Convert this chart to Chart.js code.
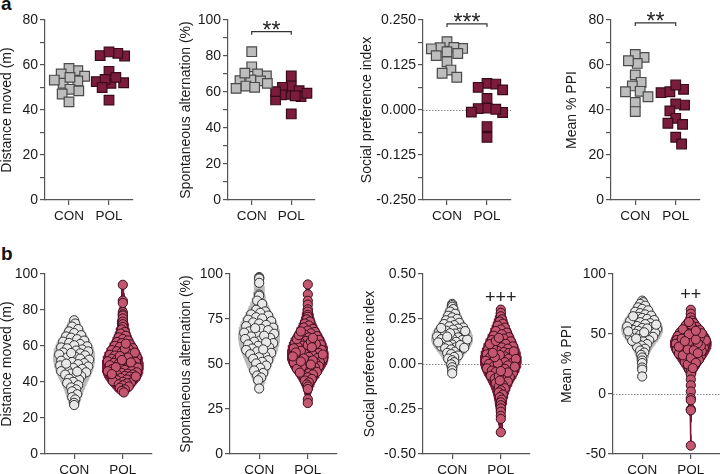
<!DOCTYPE html>
<html>
<head>
<meta charset="utf-8">
<script src="https://cdn.jsdelivr.net/npm/chart.js@4.4.1/dist/chart.umd.min.js"></script>
<style>
  html, body { margin: 0; padding: 0; background: #fff; }
  body { width: 720px; height: 474px; overflow: hidden; position: relative; font-family: "Liberation Sans", Arial, sans-serif; }
  canvas { position: absolute; }
  .panel-letter { position: absolute; font-weight: bold; font-size: 19px; line-height: 22px; color: #111; }
</style>
</head>
<body>
<div class="panel-letter" style="left:1px;top:-7px">a</div>
<div class="panel-letter" style="left:1px;top:243px">b</div>
<script>
const groups = ['CON', 'POL'];

// ---- row a: individual animals (squares) ----
const conDistA = [57.5, 58.5, 56.0, 55.0, 52.9, 51.9, 49.2, 47.1, 43.6, 48.5, 54.5, 53.3];
const polDistA = [64.0, 64.2, 65.2, 65.8, 57.2, 52.6, 51.9, 53.6, 52.1, 50.0, 44.4, 54.5];
const conAltA = [82.4, 74.0, 68.9, 70.0, 66.7, 66.2, 66.3, 63.3, 62.0, 62.6, 64.8, 70.5];
const polAltA = [68.9, 58.7, 63.3, 62.6, 60.7, 58.4, 57.4, 55.6, 60.2, 57.9, 47.8, 59.3];
const conSocA = [0.190, 0.173, 0.171, 0.174, 0.170, 0.162, 0.157, 0.151, 0.134, 0.111, 0.102, 0.091];
const polSocA = [0.074, 0.072, 0.056, 0.063, 0.032, 0.005, -0.007, 0.004, -0.006, 0.002, -0.046, -0.076];
const conPpiA = [63.4, 64.7, 60.7, 61.9, 55.6, 52.3, 50.7, 48.1, 48.3, 45.9, 43.4, 39.3];
const polPpiA = [49.2, 47.7, 48.1, 51.1, 42.2, 42.7, 39.6, 36.3, 34.1, 33.6, 27.9, 24.9];

// ---- row b: violins + individual animals (circles) ----
const conDistB = [74.3, 72.5, 70.8, 69.4, 68.1, 67.2, 66.0, 65.3, 64.6, 63.8, 63.0, 62.4, 61.7, 61.1, 60.4, 59.8, 59.2, 58.7, 58.1, 57.5, 57.0, 56.4, 55.9, 55.3, 54.8, 54.1, 53.6, 53.0, 52.4, 51.8, 51.1, 50.5, 49.9, 49.2, 48.6, 47.9, 47.3, 46.8, 46.0, 45.4, 44.7, 44.1, 43.3, 42.6, 41.8, 41.2, 40.1, 39.4, 38.2, 37.0, 35.9, 34.8, 33.2, 31.6, 30.3, 28.4, 27.2, 56.1, 50.2, 45.8];
const polDistB = [94.0, 85.2, 83.9, 78.8, 77.6, 76.9, 75.3, 73.5, 72.1, 70.6, 69.2, 67.8, 66.9, 65.7, 64.8, 63.9, 63.1, 62.2, 61.6, 60.9, 60.1, 59.5, 58.8, 58.2, 57.7, 57.1, 56.5, 56.0, 55.6, 55.1, 54.7, 54.2, 53.8, 53.3, 52.9, 52.4, 52.0, 51.5, 51.1, 50.6, 50.2, 49.7, 49.3, 48.9, 48.4, 48.0, 47.6, 47.1, 46.7, 46.3, 45.8, 45.4, 45.0, 44.6, 44.2, 43.8, 43.4, 43.0, 42.6, 42.2, 41.8, 41.4, 41.0, 40.5, 40.1, 39.6, 39.2, 38.7, 38.1, 37.5, 36.8, 35.9, 35.1, 34.2, 56.3, 53.6, 50.9, 48.2, 46.0, 44.4, 58.5, 61.3, 54.4, 52.2, 43.1];
const conAltB = [98.3, 97.8, 97.5, 95.1, 88.6, 87.9, 85.2, 83.4, 80.1, 79.2, 78.4, 77.6, 76.9, 76.0, 75.3, 74.6, 73.8, 73.1, 72.5, 71.7, 71.0, 70.2, 69.5, 68.8, 68.1, 67.4, 66.8, 66.0, 65.3, 64.5, 63.9, 63.1, 62.4, 61.6, 60.9, 60.1, 59.3, 58.6, 57.8, 57.0, 56.2, 55.4, 54.6, 53.8, 52.9, 52.1, 51.2, 50.3, 49.1, 47.8, 46.4, 45.0, 43.6, 42.5, 41.0, 36.4, 69.9, 65.7, 62.0, 58.1];
const polAltB = [94.2, 88.7, 85.1, 83.0, 80.4, 79.1, 77.3, 76.2, 74.8, 73.6, 72.5, 71.4, 70.3, 69.5, 68.6, 67.8, 67.0, 66.3, 65.5, 64.8, 64.1, 63.4, 62.8, 62.1, 61.5, 60.8, 60.2, 59.6, 59.0, 58.4, 57.8, 57.2, 56.7, 56.1, 55.6, 55.0, 54.5, 53.9, 53.4, 52.8, 52.3, 51.7, 51.1, 50.6, 50.0, 49.4, 48.8, 48.2, 47.6, 47.0, 46.3, 45.6, 44.9, 44.2, 43.4, 42.6, 41.7, 40.8, 39.8, 38.6, 37.5, 36.1, 30.4, 28.3, 57.3, 55.3, 53.1, 50.9, 48.5, 61.1, 63.8, 66.0, 58.7, 56.4, 54.2, 52.0, 49.7, 47.3, 60.5, 62.5, 45.2, 51.4, 59.3, 64.5, 68.1];
const conSocB = [0.334, 0.327, 0.318, 0.305, 0.291, 0.279, 0.268, 0.259, 0.251, 0.243, 0.236, 0.229, 0.222, 0.216, 0.209, 0.203, 0.197, 0.191, 0.185, 0.180, 0.174, 0.169, 0.163, 0.158, 0.153, 0.148, 0.143, 0.138, 0.133, 0.128, 0.123, 0.118, 0.113, 0.108, 0.103, 0.098, 0.093, 0.087, 0.081, 0.075, 0.069, 0.062, 0.055, 0.047, 0.039, 0.030, 0.021, 0.010, -0.002, -0.018, -0.035, -0.052, 0.171, 0.152, 0.136, 0.120, 0.183, 0.105, 0.200, 0.090];
const polSocB = [0.302, 0.284, 0.265, 0.248, 0.236, 0.224, 0.213, 0.202, 0.192, 0.183, 0.174, 0.165, 0.157, 0.149, 0.141, 0.133, 0.126, 0.119, 0.112, 0.105, 0.098, 0.092, 0.085, 0.079, 0.072, 0.066, 0.060, 0.054, 0.048, 0.042, 0.036, 0.030, 0.024, 0.018, 0.012, 0.006, 0.000, -0.006, -0.012, -0.018, -0.024, -0.031, -0.037, -0.044, -0.051, -0.058, -0.065, -0.073, -0.081, -0.089, -0.097, -0.106, -0.115, -0.125, -0.135, -0.146, -0.158, -0.170, -0.184, -0.198, -0.213, -0.229, -0.246, -0.265, -0.288, -0.305, -0.379, 0.070, 0.050, 0.028, 0.010, -0.008, -0.027, -0.047, 0.090, 0.110, 0.128, -0.068, -0.092, 0.145, 0.004, 0.038, -0.015, 0.062, -0.039];
const conPpiB = [77.8, 76.5, 75.1, 73.6, 72.2, 70.9, 69.7, 68.5, 67.4, 66.3, 65.3, 64.3, 63.4, 62.5, 61.6, 60.7, 59.8, 59.0, 58.2, 57.4, 56.6, 55.8, 55.0, 54.2, 53.4, 52.6, 51.8, 51.0, 50.2, 49.4, 48.5, 47.6, 46.7, 45.8, 44.8, 43.8, 42.7, 41.6, 40.4, 39.1, 37.7, 36.2, 34.5, 32.6, 30.4, 27.9, 25.8, 22.1, 20.3, 14.6, 61.0, 57.8, 54.6, 51.4, 48.0, 44.3, 64.8, 56.2, 52.2, 46.2];
const polPpiB = [70.2, 66.9, 63.8, 61.2, 59.1, 57.3, 55.8, 54.5, 53.3, 52.2, 51.1, 50.1, 49.2, 48.3, 47.4, 46.6, 45.8, 45.0, 44.2, 43.4, 42.7, 41.9, 41.2, 40.5, 39.7, 39.0, 38.3, 37.5, 36.8, 36.0, 35.2, 34.4, 33.6, 32.7, 31.8, 30.9, 29.9, 28.9, 27.8, 26.6, 25.3, 23.9, 22.4, 20.7, 18.8, 16.2, 12.1, 7.3, 2.1, -3.4, -5.2, -12.8, -13.6, -43.0, 55.0, 51.6, 48.8, 46.1, 43.8, 41.5, 38.6, 35.6, 32.2, 28.4, 24.6, 53.9, 49.7, 44.6, 40.1, 37.1, 33.1, 30.2, 47.0, 42.3, 50.6, 57.9, 45.4, 39.4, 36.4, 34.0, 52.7, 26.0, 21.6, 60.0, 44.0];

// ---- y-axis ticks ----
const distTicksA = [0, 20, 40, 60, 80];
const altTicksA = [0, 20, 40, 60, 80, 100];
const socTicksA = [-0.25, -0.125, 0, 0.125, 0.25];
const socLabelsA = ['-0.250', '-0.125', '0.000', '0.125', '0.250'];
const ppiTicksA = [0, 20, 40, 60, 80];
const distTicksB = [0, 20, 40, 60, 80, 100];
const altTicksB = [0, 25, 50, 75, 100];
const socTicksB = [-0.5, -0.25, 0, 0.25, 0.5];
const socLabelsB = ['-0.50', '-0.25', '0.00', '0.25', '0.50'];
const ppiTicksB = [-50, 0, 50, 100];

const FONT = '"Liberation Sans", Arial, Helvetica, sans-serif';
const ROW_TOP = { a: 20, b: 274 };
const PLOT_H = 180;
const PAD_TOP = 20, X_H = 30, PAD_RIGHT = 6;
const X_MIN = 0.4, X_MAX = 2.6;
const VIOLIN_HALF = 0.42;

const STYLE = {
  a: {
    con: { pointStyle: 'rect', pointRadius: 6.8, backgroundColor: '#bdbdbd', borderColor: '#4a4a4a', borderWidth: 1.2 },
    pol: { pointStyle: 'rect', pointRadius: 6.8, backgroundColor: '#7b1c3c', borderColor: '#3a0a1b', borderWidth: 1.2 }
  },
  b: {
    con: { pointStyle: 'circle', pointRadius: 4.6, backgroundColor: '#e8e8e8', borderColor: '#333', borderWidth: 1 },
    pol: { pointStyle: 'circle', pointRadius: 4.6, backgroundColor: '#c4566f', borderColor: '#3b0e1d', borderWidth: 1 }
  },
  violin: { con: '#bababa', pol: '#7b1837' }
};

const panels = [
  { row: 'a', title: 'Distance moved (m)', con: conDistA, pol: polDistA, ticks: distTicksA, titleX: 7, axisX: 45, right: 135 },
  { row: 'a', title: 'Spontaneous alternation (%)', con: conAltA, pol: polAltA, ticks: altTicksA, titleX: 186, axisX: 228, right: 317,
    sig: { text: '**', y: 93.5, bracket: true } },
  { row: 'a', title: 'Social preference index', con: conSocA, pol: polSocA, ticks: socTicksA, labels: socLabelsA, titleX: 367, axisX: 423, right: 513,
    zero: true, sig: { text: '***', y: 0.239, bracket: true } },
  { row: 'a', title: 'Mean % PPI', con: conPpiA, pol: polPpiA, ticks: ppiTicksA, titleX: 572, axisX: 611, right: 702,
    sig: { text: '**', y: 78.7, bracket: true } },
  { row: 'b', title: 'Distance moved (m)', con: conDistB, pol: polDistB, ticks: distTicksB, titleX: 7, axisX: 45, right: 152 },
  { row: 'b', title: 'Spontaneous alternation (%)', con: conAltB, pol: polAltB, ticks: altTicksB, titleX: 186, axisX: 230, right: 337 },
  { row: 'b', title: 'Social preference index', con: conSocB, pol: polSocB, ticks: socTicksB, labels: socLabelsB, titleX: 370, axisX: 423, right: 530,
    zero: true, sig: { text: '+++', y: 0.372 } },
  { row: 'b', title: 'Mean % PPI', con: conPpiB, pol: polPpiB, ticks: ppiTicksB, titleX: 567, axisX: 613, right: 720,
    zero: true, sig: { text: '++', y: 83.3 } }
];

// kernel density outline of a group, truncated at its min / max
function density(values) {
  const n = values.length;
  const s = [...values].sort((a, b) => a - b);
  const mean = s.reduce((a, b) => a + b, 0) / n;
  const sd = Math.sqrt(s.reduce((a, b) => a + (b - mean) ** 2, 0) / (n - 1));
  const q = f => s[Math.round(f * (n - 1))];
  const h = 0.9 * Math.min(sd, (q(0.75) - q(0.25)) / 1.34) * Math.pow(n, -0.2);
  const lo = s[0], hi = s[n - 1];
  const ys = [], ws = [];
  for (let k = 0; k <= 80; k++) {
    const y = lo + (hi - lo) * k / 80;
    let d = 0;
    s.forEach(v => { d += Math.exp(-0.5 * ((y - v) / h) ** 2); });
    ys.push(y);
    ws.push(d);
  }
  const m = Math.max(...ws);
  const wn = ws.map(d => d / m);
  return {
    ys, ws: wn,
    at(v) {
      if (v <= lo) return wn[0];
      if (v >= hi) return wn[wn.length - 1];
      const t = (v - lo) / (hi - lo) * 80, i = Math.floor(t), f = t - i;
      return wn[i] * (1 - f) + (wn[Math.min(i + 1, 80)] || 0) * f;
    }
  };
}

// spread points sideways (beeswarm), in pixels, then back to x units
function swarm(values, pxX, pxY, gap, limitPx) {
  const order = values.map((v, i) => i).sort((a, b) => values[b] - values[a]);
  const placed = [];
  const offs = new Array(values.length).fill(0);
  order.forEach((i, n) => {
    const py = values[i] * pxY;
    const lim = Math.max(0, Math.floor(limitPx(values[i])));
    const sign = n % 2 ? 1 : -1;   // alternate the side tried first, keeps the swarm balanced
    let best = 0, bestD = -1;
    for (let k = 0; k <= lim * 2; k++) {
      const off = k === 0 ? 0 : (k % 2 ? sign : -sign) * Math.ceil(k / 2);
      let dmin = Infinity;
      placed.forEach(p => {
        const d = Math.hypot(p.x - off, p.y - py);
        if (d < dmin) dmin = d;
      });
      if (dmin >= gap) { best = off; bestD = dmin; break; }
      if (dmin > bestD) { bestD = dmin; best = off; }
    }
    placed.push({ x: best, y: py });
    offs[i] = best / pxX;
  });
  return offs;
}

function marksPlugin(p) {
  return {
    id: 'marks',
    beforeDatasetsDraw(chart) {
      if (!p.zero) return;
      const { ctx, chartArea: a, scales: { y } } = chart;
      const py = Math.round(y.getPixelForValue(0)) + 0.5;
      ctx.save();
      ctx.strokeStyle = '#8a8a8a';
      ctx.lineWidth = 1;
      ctx.setLineDash([1.5, 1.5]);
      ctx.beginPath();
      ctx.moveTo(a.left, py);
      ctx.lineTo(a.right, py);
      ctx.stroke();
      ctx.restore();
    },
    afterDatasetsDraw(chart) {
      const s = p.sig;
      if (!s) return;
      const { ctx, scales: { x, y } } = chart;
      const py = y.getPixelForValue(s.y);
      ctx.save();
      ctx.fillStyle = '#222';
      ctx.strokeStyle = '#333';
      ctx.lineWidth = 1.2;
      ctx.textAlign = 'center';
      ctx.textBaseline = 'alphabetic';
      if (s.bracket) {
        const x1 = x.getPixelForValue(1), x2 = x.getPixelForValue(2);
        ctx.beginPath();
        ctx.moveTo(x1, py + 3); ctx.lineTo(x1, py); ctx.lineTo(x2, py); ctx.lineTo(x2, py + 3);
        ctx.stroke();
        ctx.font = '23px ' + FONT;
        ctx.fillText(s.text, (x1 + x2) / 2, py + 6);
      } else {
        ctx.font = '18px ' + FONT;
        ctx.fillText(s.text, x.getPixelForValue(2), py + 6);
      }
      ctx.restore();
    }
  };
}

function build(p) {
  const top = ROW_TOP[p.row] - PAD_TOP;
  const left = Math.round(p.titleX - 8.4);
  const yw = p.axisX - left;
  const width = p.right - left + PAD_RIGHT;
  const height = PAD_TOP + PLOT_H + X_H;
  const cv = document.createElement('canvas');
  cv.width = width; cv.height = height;
  cv.style.left = left + 'px'; cv.style.top = top + 'px';
  cv.style.width = width + 'px'; cv.style.height = height + 'px';
  document.body.appendChild(cv);

  const yMin = p.ticks[0], yMax = p.ticks[p.ticks.length - 1];
  const pxY = PLOT_H / (yMax - yMin);
  const pxX = (p.right - p.axisX) / (X_MAX - X_MIN);
  const labels = p.labels || p.ticks.map(String);

  // row a carries minor ticks half-way between labelled ones
  let yAll = [...p.ticks];
  if (p.row === 'a') {
    for (let i = 0; i < p.ticks.length - 1; i++) yAll.push((p.ticks[i] + p.ticks[i + 1]) / 2);
  }
  yAll.sort((a, b) => a - b);

  const datasets = [];
  [['con', p.con, 1], ['pol', p.pol, 2]].forEach(([key, vals, cx]) => {
    let offs;
    if (p.row === 'b') {
      const dens = density(vals);
      const outline = [];
      dens.ys.forEach((y, k) => outline.push({ x: cx + VIOLIN_HALF * dens.ws[k], y }));
      for (let k = dens.ys.length - 1; k >= 0; k--) outline.push({ x: cx - VIOLIN_HALF * dens.ws[k], y: dens.ys[k] });
      datasets.push({
        type: 'line', data: outline, order: 2, fill: 'shape', tension: 0,
        backgroundColor: STYLE.violin[key], borderColor: STYLE.violin[key], borderWidth: 1,
        pointRadius: 0, pointHoverRadius: 0, clip: false
      });
      offs = swarm(vals, pxX, pxY, 8, v => VIOLIN_HALF * dens.at(v) * pxX - 5);
    } else {
      offs = swarm(vals, pxX, pxY, 9, () => 16);
    }
    datasets.push(Object.assign({
      type: 'scatter', order: 1, clip: false,
      data: vals.map((v, i) => ({ x: cx + offs[i], y: v }))
    }, STYLE[p.row][key]));
  });

  const axisGrid = { display: true, drawOnChartArea: false, drawTicks: true, tickLength: 5, color: '#555', lineWidth: 1.2 };
  const axisBorder = { display: true, color: '#555', width: 1.2 };

  new Chart(cv, {
    type: 'scatter',
    data: { datasets },
    options: {
      responsive: false,
      animation: false,
      events: [],
      layout: { padding: { left: 0, top: PAD_TOP, right: PAD_RIGHT, bottom: 0 } },
      plugins: { legend: { display: false }, tooltip: { enabled: false } },
      scales: {
        x: {
          type: 'linear', min: X_MIN, max: X_MAX,
          grid: axisGrid, border: axisBorder,
          afterBuildTicks: s => { s.ticks = [{ value: 1 }, { value: 2 }]; },
          afterFit: s => { s.height = X_H; },
          ticks: {
            autoSkip: false, maxRotation: 0, padding: 3, color: '#1a1a1a',
            font: { family: FONT, size: 13.5 },
            callback: v => groups[Math.round(v) - 1]
          }
        },
        y: {
          type: 'linear', min: yMin, max: yMax,
          grid: axisGrid, border: axisBorder,
          afterBuildTicks: s => { s.ticks = yAll.map(v => ({ value: v })); },
          afterFit: s => { s.width = yw; },
          title: { display: true, text: p.title, color: '#1a1a1a', font: { family: FONT, size: 14 }, padding: 0 },
          ticks: {
            autoSkip: false, padding: 2, color: '#1a1a1a',
            font: { family: FONT, size: 14 },
            callback: v => {
              const i = p.ticks.findIndex(t => Math.abs(t - v) < 1e-9);
              return i >= 0 ? labels[i] : '';
            }
          }
        }
      }
    },
    plugins: [marksPlugin(p)]
  });
}

panels.forEach(build);
</script>
</body>
</html>
